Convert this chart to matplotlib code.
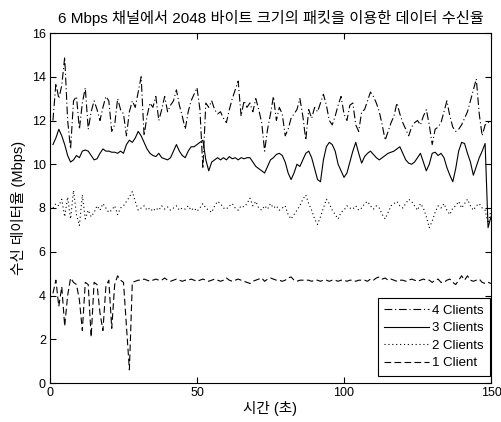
import matplotlib
matplotlib.use('Agg')
import matplotlib.pyplot as plt
import numpy as np

# Latin text in an Arial-like face, Hangul falls back to Noto CJK KR
plt.rcParams['font.family'] = ['Liberation Sans', 'Noto Sans CJK KR', 'DejaVu Sans']

# time axis (seconds)
t = np.arange(1, 151)

# received data rate (Mbps)
clients4 = [
    12.0, 13.7, 13.0, 13.6, 14.9, 12.0, 10.7, 12.9, 13.1, 11.6,
    12.8, 13.5, 11.6, 12.4, 12.9, 12.5, 12.0, 12.6, 13.1, 12.9,
    11.5, 11.8, 13.0, 12.5, 12.3, 11.3, 12.4, 12.9, 12.6, 13.3,
    14.0, 11.3, 12.2, 12.8, 12.6, 13.1, 12.0, 12.5, 13.1, 12.4,
    12.7, 12.9, 13.4, 12.7, 12.2, 11.6, 12.4, 12.9, 13.2, 13.5,
    12.5, 9.8, 12.8, 12.6, 12.9, 12.5, 12.3, 12.4, 12.1, 11.9,
    12.5, 13.0, 13.4, 13.8, 12.2, 12.9, 12.6, 12.8, 12.4, 13.0,
    12.5, 11.9, 10.6, 11.6, 12.3, 13.1, 12.0, 12.6, 12.3, 11.3,
    11.6, 12.1, 12.3, 12.5, 13.0, 12.2, 11.1, 12.5, 12.1, 12.6,
    12.4, 12.8, 13.2, 12.7, 12.0, 11.8, 12.2, 12.7, 13.1, 12.3,
    12.0, 12.7, 12.8, 11.8, 11.5, 12.4, 12.5, 12.9, 13.3, 13.1,
    12.8, 12.4, 11.8, 11.1, 11.5, 11.9, 12.2, 12.8, 12.3, 11.9,
    11.6, 11.3, 11.7, 11.9, 12.0, 11.8, 12.2, 12.5, 11.8, 10.9,
    11.6, 11.7, 11.9, 12.4, 12.9, 12.2, 11.7, 11.5, 11.6, 11.8,
    12.1, 12.4, 12.9, 13.4, 13.9, 12.3, 11.3, 11.8, 11.9, 12.0,
]
clients3 = [
    10.9, 11.2, 11.6, 11.3, 10.9, 10.4, 10.1, 10.2, 10.4, 10.3,
    10.6, 10.65, 10.6, 10.4, 10.2, 10.25, 10.5, 10.7, 10.6, 10.6,
    10.55, 10.55, 10.5, 10.6, 10.5, 10.9, 11.1, 11.0, 11.2, 11.5,
    11.3, 11.0, 10.7, 10.5, 10.4, 10.35, 10.5, 10.3, 10.25, 10.2,
    10.3, 10.6, 10.9, 10.6, 10.4, 10.3, 10.6, 10.8, 10.8, 10.9,
    11.0, 11.1, 10.2, 9.7, 10.1, 10.2, 10.3, 10.2, 10.3, 10.2,
    10.35, 10.25, 10.3, 10.2, 10.3, 10.25, 10.3, 10.3, 10.1, 9.9,
    9.8, 9.7, 9.6, 9.9, 10.2, 10.3, 10.45, 10.5, 10.4, 10.1,
    9.6, 9.3, 9.6, 10.0, 9.9, 10.2, 10.5, 10.6, 10.3, 9.8,
    9.3, 9.2, 10.2, 10.8, 11.0, 10.9, 10.6, 10.0, 9.7, 9.4,
    9.6, 10.1, 10.6, 11.0, 10.5, 10.05, 10.35, 10.5, 10.6, 10.45,
    10.3, 10.2, 10.3, 10.4, 10.5, 10.55, 10.6, 10.7, 10.8, 10.5,
    10.2, 10.05, 10.0, 10.1, 10.3, 10.5, 10.1, 9.7, 10.0, 10.5,
    10.55, 10.4, 10.5, 10.3, 9.85, 9.5, 9.2, 9.8, 10.6, 11.0,
    10.95, 10.5, 10.1, 9.5, 9.9, 10.3, 10.6, 10.95, 7.1, 7.6,
]
clients2 = [
    8.0, 8.2, 8.1, 8.4, 7.6, 8.5, 7.5, 8.8, 7.7, 7.2,
    8.6, 7.5, 7.9, 7.6, 7.8, 8.1, 7.9, 8.2, 8.0, 7.8,
    7.9, 8.1, 7.7, 8.0, 8.1, 8.3, 8.5, 8.75, 8.3, 7.9,
    8.0, 8.1, 7.9, 8.0, 7.85, 8.0, 7.9, 8.1, 7.95, 8.05,
    7.9, 8.0, 8.1, 7.9, 8.0, 7.95, 8.1, 7.9, 8.0, 7.85,
    8.0, 8.2, 8.0, 7.9, 7.8, 8.1, 8.3, 8.2, 8.0, 7.95,
    8.1, 8.2, 8.0, 7.9, 8.1, 8.05, 8.2, 8.45, 8.1, 8.3,
    8.0, 7.9, 8.1, 7.95, 8.2, 8.0, 8.1, 7.9, 8.0, 8.1,
    7.7, 7.5, 7.7, 7.9, 8.1, 8.4, 8.6, 8.2, 7.9, 7.5,
    7.25, 7.6, 8.0, 8.4, 8.2, 7.9, 7.7, 7.5, 7.8, 7.9,
    8.1, 8.0, 7.95, 8.1, 7.9, 8.0, 8.2, 8.3, 8.1, 7.95,
    8.1, 8.0, 7.7, 7.5, 7.8, 8.1, 8.2, 8.3, 8.1, 8.0,
    8.2, 8.4, 8.3, 8.1, 7.9, 8.2, 8.0, 7.6, 7.1, 7.4,
    7.8, 8.1, 8.0, 8.2, 7.9, 7.7, 8.0, 8.1, 8.3, 8.0,
    8.2, 8.4, 8.1, 7.9, 8.1, 8.2, 8.0, 7.9, 7.3, 7.9,
]
clients1 = [
    4.1, 4.7, 3.5, 4.4, 2.6, 4.0, 4.8, 4.6, 4.5, 3.8,
    2.4, 4.6, 4.5, 2.1, 4.6, 4.5, 3.2, 2.4, 4.4, 4.7,
    2.5, 4.5, 4.9, 4.7, 4.6, 2.6, 0.6, 4.6, 4.65, 4.7,
    4.7, 4.75, 4.7, 4.65, 4.7, 4.75, 4.7, 4.7, 4.8, 4.7,
    4.65, 4.7, 4.75, 4.7, 4.65, 4.7, 4.7, 4.75, 4.7, 4.65,
    4.7, 4.75, 4.7, 4.65, 4.7, 4.75, 4.7, 4.65, 4.7, 4.8,
    4.7, 4.65, 4.7, 4.75, 4.7, 4.65, 4.6, 4.55, 4.65, 4.7,
    4.75, 4.8, 4.65, 4.75, 4.8, 4.75, 4.7, 4.7, 4.65, 4.7,
    4.8, 4.85, 4.7, 4.65, 4.7, 4.7, 4.7, 4.7, 4.65, 4.7,
    4.7, 4.65, 4.7, 4.7, 4.65, 4.7, 4.7, 4.65, 4.7, 4.7,
    4.65, 4.7, 4.7, 4.65, 4.7, 4.7, 4.7, 4.65, 4.75, 4.7,
    4.8, 4.85, 4.75, 4.8, 4.7, 4.75, 4.7, 4.65, 4.7, 4.7,
    4.65, 4.7, 4.75, 4.7, 4.65, 4.7, 4.75, 4.7, 4.7, 4.6,
    4.7, 4.75, 4.6, 4.6, 4.7, 4.75, 4.6, 4.5, 4.7, 4.9,
    4.7, 4.9, 4.7, 4.65, 4.7, 4.75, 4.6, 4.55, 4.6, 4.55,
]

fig = plt.figure(figsize=(5.02, 4.22), dpi=100)
ax = fig.add_axes([50 / 502, 39 / 422, 441 / 502, 350 / 422])

lw = 0.8
ax.plot(t, clients4, color='k', lw=lw, ls=(0, (7, 2.5, 1, 2.5)), label='4 Clients')
ax.plot(t, clients3, color='k', lw=lw, ls='-', label='3 Clients')
ax.plot(t, clients2, color='k', lw=lw, ls=(0, (1, 2.5)), label='2 Clients')
ax.plot(t, clients1, color='k', lw=lw, ls=(0, (6, 3)), label='1 Client')

ax.set_xlim(0, 150)
ax.set_ylim(0, 16)
ax.set_xticks([0, 50, 100, 150])
ax.set_yticks(range(0, 17, 2))
ax.tick_params(direction='in', top=True, right=True, labelsize=9, length=4, pad=3)

ax.set_title('6 Mbps 채널에서 2048 바이트 크기의 패킷을 이용한 데이터 수신율',
             fontsize=11, pad=7)
ax.set_xlabel('시간 (초)', fontsize=10.5, labelpad=1)
ax.set_ylabel('수신 데이터율 (Mbps)', fontsize=10.5, labelpad=4)

leg = ax.legend(loc='lower right', fontsize=9.5, handlelength=3.4,
                fancybox=False, edgecolor='k', framealpha=1,
                bbox_to_anchor=(490 / 502, 46 / 422),
                bbox_transform=fig.transFigure, borderaxespad=0,
                borderpad=0.5, labelspacing=0.4, handletextpad=0.2)
leg.get_frame().set_linewidth(0.8)

fig.savefig('out.png', dpi=100)
